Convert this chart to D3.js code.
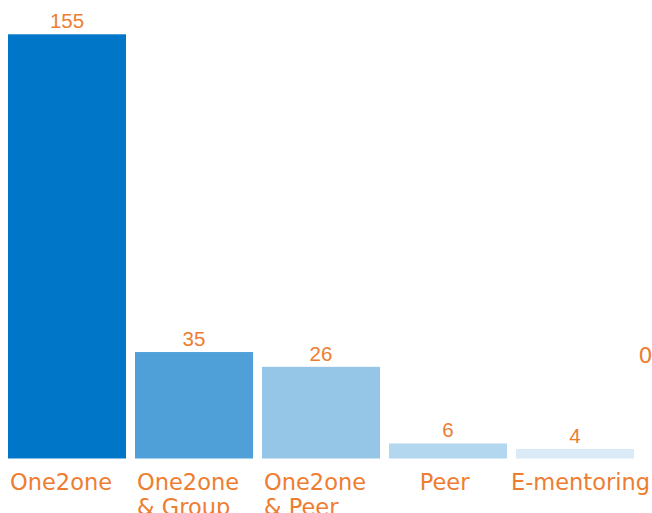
<!DOCTYPE html>
<html>
<head>
<meta charset="utf-8">
<script src="https://cdn.jsdelivr.net/npm/d3@7"></script>
<style>
  body { margin: 0; background: #fff; }
  svg { display: block; }
  text { fill: #ED7D31; }
  .value { font-family: "Liberation Sans", sans-serif; font-size: 20.5px; }
  .cat { font-family: "DejaVu Sans", sans-serif; font-size: 22.5px; }
  .edge { font-family: "DejaVu Sans", sans-serif; font-size: 22px; }
</style>
</head>
<body>
<svg width="652" height="513"></svg>
<script>
// Category names (each entry is one label line list)
var categories = ["One2one", "One2one & Group", "One2one & Peer", "Peer", "E-mentoring"];
var catLines = [["One2one"], ["One2one", "& Group"], ["One2one", "& Peer"], ["Peer"], ["E-mentoring"]];
// Printed data labels
var labels = ["155", "35", "26", "6", "4"];
// Bar lengths as drawn in the picture (same units as the 155 bar)
var barValues = [155, 38.9, 33.5, 5.5, 3.5];
var barColors = ["#0076C8", "#4FA0D9", "#96C6E7", "#B3D7EF", "#DAEAF7"];
// stray label cut off at the right edge
var edgeLabel = "0";

function createPlot() {
  var svg = d3.select("svg");
  var g = svg.append("g");
  var pad = 9 / 127;

  var xScale = d3.scaleBand()
    .domain(categories)
    .range([3.5, 638.5])
    .paddingInner(pad)
    .paddingOuter(pad / 2);

  var yScale = d3.scaleLinear()
    .domain([0, 155])
    .range([458.5, 34.3]);

  g.selectAll(".bar")
    .data(categories)
    .enter()
    .append("rect")
    .attr("class", "bar")
    .attr("x", d => xScale(d))
    .attr("width", xScale.bandwidth())
    .attr("y", (d, i) => yScale(barValues[i]))
    .attr("height", (d, i) => yScale(0) - yScale(barValues[i]))
    .attr("fill", (d, i) => barColors[i]);

  // value labels
  g.selectAll(".value")
    .data(categories)
    .enter()
    .append("text")
    .attr("class", "value")
    .attr("text-anchor", "middle")
    .attr("x", d => xScale(d) + xScale.bandwidth() / 2)
    .attr("y", (d, i) => yScale(barValues[i]) - 6)
    .text((d, i) => labels[i]);

  // category labels, lines left aligned in a block
  var cats = g.selectAll(".cat")
    .data(categories)
    .enter()
    .append("text")
    .attr("class", "cat")
    .attr("y", yScale(0) + 31);

  cats.selectAll("tspan")
    .data((d, i) => catLines[i])
    .enter()
    .append("tspan")
    .attr("dy", (d, j) => j === 0 ? 0 : 25)
    .text(d => d);

  cats.each(function(d) {
    var w = this.getBBox().width;
    var bw = xScale.bandwidth();
    var x0 = xScale(d) + (w > 90 ? 2 : (bw - w) / 2 - 3);
    x0 = Math.min(x0, 650 - w);
    d3.select(this).selectAll("tspan").attr("x", x0);
  });

  g.append("text")
    .attr("class", "edge")
    .attr("x", xScale.range()[1])
    .attr("y", 363)
    .text(edgeLabel);
}

createPlot();
</script>
</body>
</html>
